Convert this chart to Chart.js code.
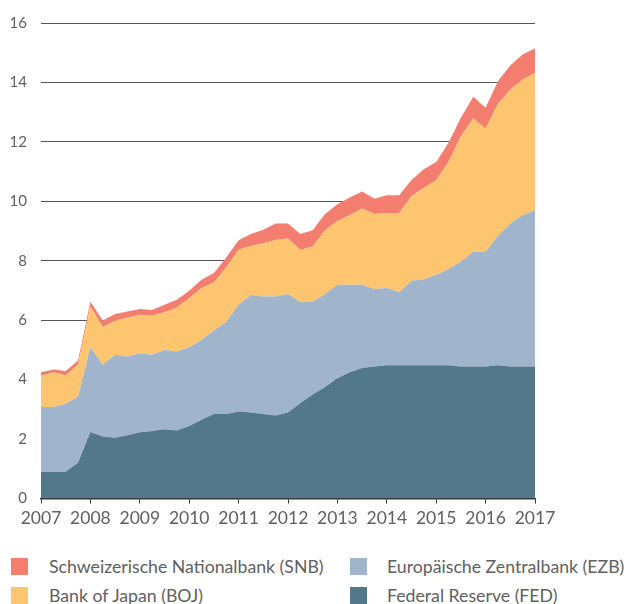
<!DOCTYPE html>
<html>
<head>
<meta charset="utf-8">
<script src="https://cdn.jsdelivr.net/npm/chart.js@4/dist/chart.umd.min.js"></script>
<style>
  html, body { margin: 0; padding: 0; background: #fff; }
  #wrap { position: relative; width: 627px; height: 604px; overflow: hidden; }
  #chartBox { position: absolute; left: 0; top: 0; width: 627px; height: 540px; }
  .lg { position: absolute; font-family: Lato, "Open Sans", sans-serif; font-size: 17.7px; color: #606060; white-space: nowrap; line-height: 18px; }
  .sw { position: absolute; width: 17px; height: 17px; }
</style>
</head>
<body>
<div id="wrap">
  <div id="chartBox"><canvas id="c"></canvas></div>
  <div id="legend"></div>
</div>
<script>
// Quarterly periods (decimal years)
const periods = [2007.00, 2007.25, 2007.50, 2007.75, 2008.00, 2008.25, 2008.50, 2008.75,
                 2009.00, 2009.25, 2009.50, 2009.75, 2010.00, 2010.25, 2010.50, 2010.75,
                 2011.00, 2011.25, 2011.50, 2011.75, 2012.00, 2012.25, 2012.50, 2012.75,
                 2013.00, 2013.25, 2013.50, 2013.75, 2014.00, 2014.25, 2014.50, 2014.75,
                 2015.00, 2015.25, 2015.50, 2015.75, 2016.00, 2016.25, 2016.50, 2016.75,
                 2017.00];

// Balance sheets (stacked, bottom to top)
const fed = [0.90, 0.90, 0.90, 1.20, 2.24, 2.09, 2.04, 2.13, 2.23, 2.27, 2.33, 2.29,
             2.44, 2.65, 2.84, 2.84, 2.93, 2.89, 2.84, 2.79, 2.89, 3.21, 3.50, 3.75,
             4.05, 4.25, 4.39, 4.44, 4.48, 4.48, 4.48, 4.48, 4.48, 4.48, 4.44, 4.44,
             4.44, 4.48, 4.44, 4.44, 4.44];
const ezb = [2.18, 2.18, 2.29, 2.23, 2.85, 2.41, 2.80, 2.65, 2.66, 2.57, 2.67, 2.66,
             2.65, 2.69, 2.81, 3.11, 3.59, 3.96, 3.96, 4.01, 3.99, 3.39, 3.12, 3.13,
             3.14, 2.94, 2.80, 2.61, 2.60, 2.46, 2.85, 2.90, 3.05, 3.24, 3.53, 3.86,
             3.86, 4.36, 4.81, 5.09, 5.26];
const boj = [1.04, 1.17, 0.95, 1.08, 1.37, 1.26, 1.15, 1.30, 1.29, 1.31, 1.27, 1.48,
             1.65, 1.74, 1.62, 1.83, 1.85, 1.65, 1.79, 1.90, 1.87, 1.76, 1.86, 2.15,
             2.15, 2.34, 2.57, 2.52, 2.53, 2.67, 2.85, 3.08, 3.18, 3.60, 4.23, 4.49,
             4.14, 4.44, 4.51, 4.57, 4.62];
const snb = [0.13, 0.09, 0.15, 0.13, 0.16, 0.23, 0.22, 0.21, 0.20, 0.19, 0.25, 0.26,
             0.25, 0.28, 0.32, 0.33, 0.32, 0.40, 0.45, 0.55, 0.50, 0.54, 0.55, 0.54,
             0.56, 0.60, 0.57, 0.52, 0.59, 0.59, 0.54, 0.62, 0.61, 0.65, 0.61, 0.73,
             0.71, 0.76, 0.81, 0.84, 0.82];

const yTicks = [0, 2, 4, 6, 8, 10, 12, 14, 16];
const xTicks = [2007, 2008, 2009, 2010, 2011, 2012, 2013, 2014, 2015, 2016, 2017];

const seriesNames = {
  snb: "Schweizerische Nationalbank (SNB)",
  ezb: "Europäische Zentralbank (EZB)",
  boj: "Bank of Japan (BOJ)",
  fed: "Federal Reserve (FED)"
};
const colors = {
  snb: "#f37d6f",
  boj: "#fdc56f",
  ezb: "#a0b5cb",
  fed: "#537889"
};

function pts(arr) { return arr.map((v, i) => ({ x: periods[i], y: v })); }
function ds(key, arr, fill) {
  return {
    label: seriesNames[key], data: pts(arr), backgroundColor: colors[key],
    borderColor: colors[key], borderWidth: 0, pointRadius: 0, fill: fill, tension: 0
  };
}

new Chart(document.getElementById('c'), {
  type: 'line',
  data: {
    datasets: [
      ds('fed', fed, 'origin'),
      ds('ezb', ezb, '-1'),
      ds('boj', boj, '-1'),
      ds('snb', snb, '-1')
    ]
  },
  options: {
    responsive: true,
    maintainAspectRatio: false,
    animation: false,
    layout: { padding: { top: 21, right: 92, left: 0, bottom: 0 } },
    plugins: { legend: { display: false }, tooltip: { enabled: false } },
    scales: {
      x: {
        type: 'linear', min: 2007, max: 2017,
        afterBuildTicks: (s) => { s.ticks = xTicks.map(v => ({ value: v })); },
        afterFit: (s) => { s.height = 41.5; },
        grid: { drawOnChartArea: false, drawTicks: true, tickLength: 5, color: '#333', lineWidth: 1 },
        border: { display: true, color: '#333', width: 1.5 },
        ticks: {
          callback: (v) => String(v), color: '#606060', padding: 4,
          font: { family: 'Lato', size: 17.5 }, maxRotation: 0, autoSkip: false
        }
      },
      y: {
        stacked: true, min: 0, max: 16,
        afterBuildTicks: (s) => { s.ticks = yTicks.map(v => ({ value: v })); },
        afterFit: (s) => { s.width = 41; },
        grid: { drawTicks: false, color: '#555', lineWidth: 1 },
        border: { display: false },
        ticks: { color: '#606060', padding: 14, font: { family: 'Lato', size: 15 } }
      }
    }
  }
});

// Legend (two columns)
const legendItems = [
  { key: 'snb', col: 0, row: 0 },
  { key: 'ezb', col: 1, row: 0 },
  { key: 'boj', col: 0, row: 1 },
  { key: 'fed', col: 1, row: 1 }
];
const colX = [11, 350], textX = [49, 387], rowY = [558, 587];
const lg = document.getElementById('legend');
legendItems.forEach(it => {
  const sw = document.createElement('div');
  sw.className = 'sw';
  sw.style.left = colX[it.col] + 'px';
  sw.style.top = rowY[it.row] + 'px';
  sw.style.background = colors[it.key];
  lg.appendChild(sw);
  const t = document.createElement('div');
  t.className = 'lg';
  t.style.left = textX[it.col] + 'px';
  t.style.top = (rowY[it.row] - 0.5) + 'px';
  t.textContent = seriesNames[it.key];
  lg.appendChild(t);
});
</script>
</body>
</html>
